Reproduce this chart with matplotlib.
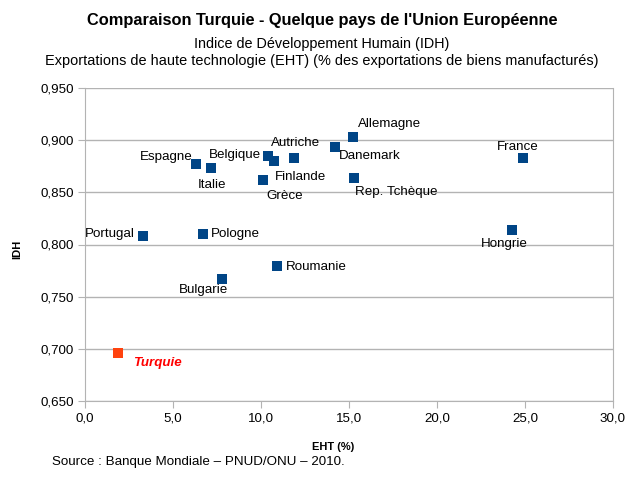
import matplotlib
matplotlib.use("Agg")
import matplotlib.pyplot as plt
from matplotlib.ticker import FuncFormatter

plt.rcParams['font.family'] = ['Liberation Sans', 'DejaVu Sans']

countries = ["Allemagne", "France", "Danemark", "Autriche", "Belgique", "Finlande",
             "Espagne", "Italie", "Grèce", "Rep. Tchèque", "Portugal", "Pologne",
             "Hongrie", "Roumanie", "Bulgarie"]
eht = [15.25, 24.9, 14.2, 11.9, 10.4, 10.75, 6.3, 7.15, 10.1, 15.3, 3.3, 6.7, 24.25, 10.9, 7.8]
idh = [0.903, 0.883, 0.893, 0.883, 0.885, 0.880, 0.877, 0.873, 0.862, 0.864, 0.808, 0.810,
       0.814, 0.779, 0.767]
turkey_name = "Turquie"
turkey_eht = 1.85
turkey_idh = 0.696

# label offsets in pixels (dx, dy) and alignment
offsets = {
    "Allemagne": (5, 13, "left"), "France": (-5, 11, "center"), "Danemark": (4, -9, "left"),
    "Autriche": (1, 15, "center"), "Belgique": (-7, 1, "right"), "Finlande": (1, -16, "left"),
    "Espagne": (-3, 7, "right"), "Italie": (1, -17, "center"), "Grèce": (4, -16, "left"),
    "Rep. Tchèque": (1, -14, "left"), "Portugal": (-8, 2, "right"), "Pologne": (8, 0, "left"),
    "Hongrie": (-7, -14, "center"), "Roumanie": (9, -1, "left"), "Bulgarie": (-19, -11, "center"),
}

fig = plt.figure(figsize=(6.44, 4.83), dpi=100)
ax = fig.add_axes([85/644, 1-401/483, (613-85)/644, (401-88)/483])

ax.scatter(eht, idh, marker='s', s=50, color='#004586', zorder=3, linewidths=0)
ax.scatter([turkey_eht], [turkey_idh], marker='s', s=50, color='#ff420e', zorder=3, linewidths=0)

for c, x, y in zip(countries, eht, idh):
    dx, dy, ha = offsets[c]
    ax.annotate(c, (x, y), xytext=(dx, dy), textcoords='offset pixels', ha=ha, va='center',
                fontsize=9.6, color='#000000', zorder=4)
ax.annotate(turkey_name, (turkey_eht, turkey_idh), xytext=(15, -10), textcoords='offset pixels',
            ha='left', va='center', fontsize=9.6, color='#ff0000', fontweight='bold',
            fontstyle='italic', zorder=4)

ax.set_xlim(0, 30)
ax.set_ylim(0.65, 0.95)
ax.set_xticks([0, 5, 10, 15, 20, 25, 30])
ax.set_yticks([0.65, 0.70, 0.75, 0.80, 0.85, 0.90, 0.95])
ax.xaxis.set_major_formatter(FuncFormatter(lambda v, p: f"{v:.1f}".replace('.', ',')))
ax.yaxis.set_major_formatter(FuncFormatter(lambda v, p: f"{v:.3f}".replace('.', ',')))
ax.tick_params(axis='both', direction='out', length=5, color='#b3b3b3', labelsize=9.6,
               labelcolor='#000000', pad=3)
ax.grid(axis='y', color='#b3b3b3', linewidth=1)
ax.set_axisbelow(True)
for side in ['left', 'right', 'top', 'bottom']:
    ax.spines[side].set_color('#b3b3b3')
ax.spines['top'].set_visible(False)

fig.text(333/644, 1-447/483, "EHT (%)", ha='center', va='center', fontsize=8, fontweight='bold')
fig.text(17/644, 1-249/483, "IDH", ha='center', va='center', fontsize=8, fontweight='bold',
         rotation=90)

fig.text(0.5, 1-21/483, "Comparaison Turquie - Quelque pays de l'Union Européenne",
         ha='center', va='center', fontsize=11.75, fontweight='bold')
fig.text(0.5, 1-44/483, "Indice de Développement Humain (IDH)", ha='center', va='center',
         fontsize=10.4)
fig.text(0.5, 1-61/483, "Exportations de haute technologie (EHT) (% des exportations de biens manufacturés)",
         ha='center', va='center', fontsize=10.45)
fig.text(52/644, 1-462/483, "Source : Banque Mondiale – PNUD/ONU – 2010.", ha='left', va='center',
         fontsize=9.6)

fig.savefig("out.png", dpi=100)
